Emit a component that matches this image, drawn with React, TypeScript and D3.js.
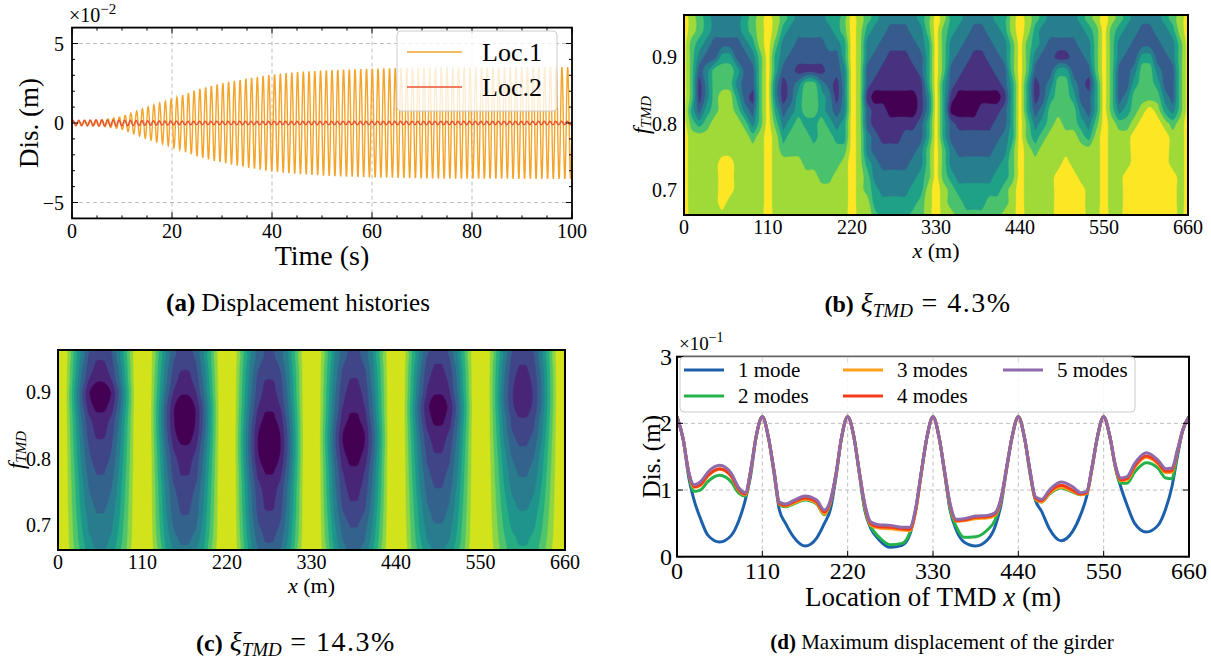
import React from "react";
import * as d3 from "d3";

const SERIF = "'Liberation Serif', 'Times New Roman', serif";

// ---------- (a) displacement histories (units of 1e-2 m) ----------
const envTimes = [0, 5, 10, 15, 20, 25, 30, 35, 40, 45, 50, 55, 60, 65, 70, 75, 80, 85, 90, 95, 100];
const loc1Envelope = [0.05, 0.15, 0.4, 1.0, 1.5, 2.1, 2.5, 2.8, 3.05, 3.2, 3.3, 3.37, 3.42, 3.45, 3.48, 3.5, 3.5, 3.5, 3.52, 3.52, 3.52];
const loc2Envelope = [0.16, 0.2, 0.18, 0.14, 0.12, 0.11, 0.11, 0.11, 0.11, 0.11, 0.11, 0.11, 0.11, 0.11, 0.11, 0.11, 0.11, 0.11, 0.11, 0.11, 0.11];
const loc1Freq = 0.87; // Hz, read from peak spacing
const loc2Freq = 0.87;
const timeTicks = [0, 20, 40, 60, 80, 100];
const disTicks = [-5, 0, 5];

// ---------- (b) / (c) maps ----------
const spanTicks = [0, 110, 220, 330, 440, 550, 660];
const fTicks = [0.7, 0.8, 0.9];
const fRows = [0.96, 0.94, 0.92, 0.9, 0.88, 0.86, 0.84, 0.82, 0.8, 0.78, 0.76, 0.74, 0.72, 0.7, 0.68, 0.66];

// (b) xi = 4.3 %: contour level per cell, x = 0..660 step 10 (one group per span)
const bRows = [
  "765433334567 65433334457 65433333457 64433334467 65433334567 65433334567",
  "765433334567 64333333457 64332223357 54332233467 64333333457 54332233467",
  "754322223467 53322223347 63322222347 53322223357 54322223357 53322223357",
  "753224422357 43222222247 63221112247 53221122357 53221122357 53224422357",
  "752355542257 42211112237 62211111247 52211112257 52224422257 52235532257",
  "751355532257 31235532137 62111111147 42111111247 41235532147 52245542257",
  "751356642157 31245543137 61000000137 41000000147 41245542247 52355553257",
  "742456653257 42345543237 62110000137 40000111247 42355553247 53456764357",
  "754566665357 53454454347 62111111247 42111112247 53456554357 65567776567",
  "766666666567 64555455447 63211122247 42222222347 54566665467 66677777667",
  "766666666667 65555555557 63222222357 53222223357 65666666667 66677777667",
  "766667766667 66665555567 64322223357 53333333457 66666766667 66677777667",
  "766667766667 66666655667 65333333457 54333334457 66667776667 66777777767",
  "766667766667 66666666667 65433334467 65444444567 66667777667 66777777767",
  "766667666667 66666666667 66444444567 65544455567 66667777667 66777777767",
  "766666666667 66666666667 66544445567 66555555667 66667777667 66777777767",
];

// (c) xi = 14.3 %: level at mid-span for each f row, one list per span
const cSpan1 = [1.75, 1.2, 0.65, -0.4, 0.0, 0.85, 1.2, 1.65, 1.95, 2.35, 2.75, 3.05, 3.4, 3.75, 4.1, 4.45];
const cSpan2 = [2.0, 1.6, 1.1, 0.6, -0.3, -0.4, -0.2, 0.45, 1.0, 1.3, 1.8, 2.1, 2.35, 2.7, 3.2, 3.7];
const cSpan3 = [2.3, 1.9, 1.45, 1.1, 0.7, 0.1, -0.4, -0.5, -0.3, 0.3, 0.9, 1.2, 1.45, 1.85, 2.3, 2.7];
const cSpan4 = [2.2, 1.8, 1.4, 1.0, 0.7, 0.2, -0.4, -0.4, 0.1, 0.7, 1.0, 1.35, 1.8, 2.35, 2.8, 3.2];
const cSpan5 = [1.9, 1.35, 0.9, 0.55, -0.2, 0.1, 0.75, 1.2, 1.6, 2.0, 2.35, 2.75, 3.1, 3.5, 3.9, 4.3];
const cSpan6 = [1.8, 1.4, 1.0, 0.8, 0.9, 1.5, 1.85, 2.4, 2.9, 3.3, 3.7, 4.1, 4.5, 4.9, 5.3, 5.6];
// share of the mid-span depth reached at offsets 0..110 m (step 10) inside a span
const cAcross = [0, 0.07, 0.38, 0.68, 0.9, 0.99, 0.99, 0.9, 0.68, 0.38, 0.07, 0];
const cSupport = 9.5;

// ---------- (d) maximum displacement (units of 1e-1 m) ----------
const spanOffsets = [0, 8, 15, 22, 30, 40, 55, 70, 80, 88, 95, 102];
const mode1 = [
  2.1, 1.76, 1.2, 0.85, 0.58, 0.32, 0.22, 0.32, 0.55, 0.85, 1.22, 1.8,
  2.1, 1.78, 1.25, 0.7, 0.5, 0.3, 0.16, 0.28, 0.5, 0.72, 1.2, 1.78,
  2.1, 1.8, 1.25, 0.7, 0.42, 0.26, 0.14, 0.17, 0.33, 0.72, 1.26, 1.78,
  2.1, 1.78, 1.25, 0.7, 0.4, 0.22, 0.16, 0.25, 0.45, 0.8, 1.32, 1.8,
  2.1, 1.78, 1.25, 0.85, 0.68, 0.42, 0.24, 0.38, 0.62, 0.9, 1.32, 1.8,
  2.1, 1.8, 1.35, 1.05, 0.78, 0.5, 0.37, 0.47, 0.72, 1.05, 1.5, 1.9,
  2.1,
];
const mode2 = [
  2.1, 1.76, 1.25, 0.98, 1.0, 1.13, 1.22, 1.12, 0.95, 0.91, 1.28, 1.8,
  2.1, 1.78, 1.28, 0.78, 0.75, 0.79, 0.85, 0.79, 0.63, 0.82, 1.23, 1.78,
  2.1, 1.8, 1.26, 0.72, 0.45, 0.3, 0.18, 0.2, 0.36, 0.73, 1.27, 1.78,
  2.1, 1.78, 1.26, 0.72, 0.45, 0.29, 0.3, 0.4, 0.55, 0.86, 1.34, 1.8,
  2.1, 1.78, 1.28, 0.86, 0.82, 0.94, 1.03, 0.97, 0.93, 0.95, 1.34, 1.8,
  2.1, 1.8, 1.35, 1.1, 1.1, 1.27, 1.41, 1.33, 1.18, 1.17, 1.55, 1.9,
  2.1,
];
const mode3 = [
  2.1, 1.76, 1.27, 1.04, 1.07, 1.21, 1.31, 1.2, 0.99, 0.93, 1.29, 1.8,
  2.1, 1.78, 1.29, 0.79, 0.76, 0.8, 0.86, 0.8, 0.64, 0.83, 1.24, 1.78,
  2.1, 1.8, 1.27, 0.77, 0.47, 0.43, 0.42, 0.4, 0.39, 0.7, 1.27, 1.78,
  2.1, 1.78, 1.27, 0.77, 0.53, 0.54, 0.57, 0.58, 0.62, 0.87, 1.34, 1.8,
  2.1, 1.78, 1.29, 0.87, 0.82, 0.95, 1.04, 0.98, 0.93, 0.95, 1.34, 1.8,
  2.1, 1.8, 1.37, 1.14, 1.15, 1.34, 1.49, 1.39, 1.26, 1.27, 1.58, 1.9,
  2.1,
];
const mode4 = [
  2.1, 1.76, 1.27, 1.05, 1.08, 1.22, 1.32, 1.21, 1.0, 0.94, 1.29, 1.8,
  2.1, 1.78, 1.29, 0.8, 0.77, 0.82, 0.88, 0.82, 0.67, 0.84, 1.24, 1.78,
  2.1, 1.8, 1.27, 0.78, 0.49, 0.45, 0.44, 0.42, 0.41, 0.72, 1.27, 1.78,
  2.1, 1.78, 1.27, 0.78, 0.54, 0.55, 0.59, 0.6, 0.64, 0.88, 1.34, 1.8,
  2.1, 1.78, 1.29, 0.88, 0.84, 0.97, 1.07, 1.0, 0.94, 0.96, 1.34, 1.8,
  2.1, 1.8, 1.37, 1.15, 1.17, 1.36, 1.51, 1.41, 1.28, 1.29, 1.58, 1.9,
  2.1,
];
const mode5 = [
  2.1, 1.76, 1.28, 1.08, 1.12, 1.27, 1.37, 1.25, 1.03, 0.96, 1.3, 1.8,
  2.1, 1.78, 1.3, 0.82, 0.79, 0.84, 0.91, 0.85, 0.7, 0.86, 1.25, 1.78,
  2.1, 1.8, 1.28, 0.8, 0.52, 0.48, 0.47, 0.44, 0.44, 0.75, 1.28, 1.78,
  2.1, 1.78, 1.28, 0.8, 0.56, 0.57, 0.61, 0.62, 0.66, 0.9, 1.35, 1.8,
  2.1, 1.78, 1.3, 0.9, 0.86, 1.0, 1.12, 1.05, 0.96, 0.98, 1.35, 1.8,
  2.1, 1.8, 1.38, 1.18, 1.2, 1.4, 1.56, 1.45, 1.32, 1.33, 1.6, 1.9,
  2.1,
];
const modeNames = ["1 mode", "2 modes", "3 modes", "4 modes", "5 modes"];
const modeColors = ["#1c60ac", "#24b24a", "#ffa01c", "#f43c1c", "#8f6aab"];
const disDTicks = [0, 1, 2, 3];

function oscillation(env: number[], freq: number, phase: number) {
  const envAt = d3.scaleLinear().domain(envTimes).range(env);
  const n = Math.round(100 * freq * 24);
  return d3.range(n + 1).map((i) => {
    const t = (i * 100) / n;
    return [t, envAt(t) * Math.sin(2 * Math.PI * freq * t + phase)] as [number, number];
  });
}

// filled contours; ring corners rounded with a closed Catmull-Rom curve
function contourPaths(values: number[], nx: number, ny: number, thresholds: number[], px: (v: number) => number, py: (v: number) => number) {
  const polys = d3.contours().size([nx, ny]).thresholds(thresholds)(values);
  const ringLine = d3.line<[number, number]>().curve(d3.curveCatmullRomClosed.alpha(0.5));
  return polys.map((mp: any) =>
    mp.coordinates
      .flatMap((poly: number[][][]) =>
        poly.map((ring) => ringLine(ring.slice(0, -1).map(([x, y]) => [px(x), py(y)] as [number, number])) || "")
      )
      .join(" ")
  );
}

const Frame = ({ x0, x1, y0, y1, w = 1.6 }: any) => (
  <rect x={x0} y={y0} width={x1 - x0} height={y1 - y0} fill="none" stroke="#000" strokeWidth={w} />
);

export default function App() {
  // ---------- (a) ----------
  const A = { x0: 72, x1: 572, y0: 27.6, y1: 218.4 };
  const aX = d3.scaleLinear().domain([0, 100]).range([A.x0, A.x1]);
  const aY = d3.scaleLinear().domain([-6, 6]).range([A.y1, A.y0]);
  const aLine = d3.line<[number, number]>().x((d) => aX(d[0])).y((d) => aY(d[1]));
  const loc1 = oscillation(loc1Envelope, loc1Freq, 0);
  const loc2 = oscillation(loc2Envelope, loc2Freq, 0.5);

  // ---------- (b) ----------
  const B = { x0: 684, x1: 1188, y0: 15, y1: 215 };
  const bX = d3.scaleLinear().domain([0, 660]).range([B.x0, B.x1]);
  const bF = d3.scaleLinear().domain([0.662, 0.964]).range([B.y1, B.y0]);
  const bGrid = bRows.map((r) => r.replace(/ /g, "").split("").map(Number));
  const nx = bGrid[0].length;
  const ny = bGrid.length;
  const bColors = d3.range(8).map((i) => d3.interpolateViridis(i / 7));
  const bPaths = contourPaths(
    bGrid.flat(), nx, ny, d3.range(7).map((k) => k + 0.5),
    (X) => bX((X - 0.5) * 10),
    (Y) => bF(fRows[0] - (Y - 0.5) * 0.02)
  );

  // ---------- (c) ----------
  const C = { x0: 58, x1: 565, y0: 350, y1: 550 };
  const cX = d3.scaleLinear().domain([0, 660]).range([C.x0, C.x1]);
  const cF = d3.scaleLinear().domain([0.662, 0.964]).range([C.y1, C.y0]);
  const cSpans = [cSpan1, cSpan2, cSpan3, cSpan4, cSpan5, cSpan6];
  const cValues: number[] = [];
  fRows.forEach((_, r) => {
    for (let i = 0; i < nx; i++) {
      const x = i * 10;
      const s = Math.min(5, Math.floor(x / 110));
      const k = Math.round((x - 110 * s) / 10);
      const mid = cSpans[s][r];
      cValues.push(cSupport - (cSupport - mid) * cAcross[k]);
    }
  });
  const cColors = d3.range(10).map((i) => d3.interpolateViridis((i / 9) * 0.93));
  const cPaths = contourPaths(
    cValues, nx, ny, d3.range(9).map((k) => k + 0.5),
    (X) => cX((X - 0.5) * 10),
    (Y) => cF(fRows[0] - (Y - 0.5) * 0.02)
  );

  // ---------- (d) ----------
  const D = { x0: 677, x1: 1189, y0: 356.7, y1: 556.7 };
  const dX = d3.scaleLinear().domain([0, 660]).range([D.x0, D.x1]);
  const dY = d3.scaleLinear().domain([0, 3]).range([D.y1, D.y0]);
  const dPos = [...d3.range(6).flatMap((s) => spanOffsets.map((o) => s * 110 + o)), 660];
  const dLine = d3.line<number>().x((_, i) => dX(dPos[i])).y((v) => dY(v)).curve(d3.curveMonotoneX);
  const modes = [mode1, mode2, mode3, mode4, mode5];

  const grid = { stroke: "#b8b8b8", strokeWidth: 0.9, strokeDasharray: "4,3" };

  return (
    <svg width={1211} height={664} style={{ position: "absolute", left: 0, top: 0, background: "#fff" }} fontFamily={SERIF}>
      <rect x={0} y={0} width={1211} height={664} fill="#fff" />
      <defs>
        <clipPath id="clipA"><rect x={A.x0} y={A.y0} width={A.x1 - A.x0} height={A.y1 - A.y0} /></clipPath>
        <clipPath id="clipB"><rect x={B.x0} y={B.y0} width={B.x1 - B.x0} height={B.y1 - B.y0} /></clipPath>
        <clipPath id="clipC"><rect x={C.x0} y={C.y0} width={C.x1 - C.x0} height={C.y1 - C.y0} /></clipPath>
        <clipPath id="clipD"><rect x={D.x0} y={D.y0} width={D.x1 - D.x0} height={D.y1 - D.y0} /></clipPath>
      </defs>

      {/* ===== (a) ===== */}
      <g>
        {timeTicks.slice(1, -1).map((t) => (
          <line key={"ag" + t} x1={aX(t)} x2={aX(t)} y1={A.y0} y2={A.y1} {...grid} />
        ))}
        {disTicks.map((v) => (
          <line key={"agy" + v} x1={A.x0} x2={A.x1} y1={aY(v)} y2={aY(v)} {...grid} />
        ))}
        <g clipPath="url(#clipA)">
          <path d={aLine(loc1) || ""} fill="none" stroke="#f5a42a" strokeWidth={1.4} />
          <path d={aLine(loc2) || ""} fill="none" stroke="#e8532c" strokeWidth={1.4} />
        </g>
        {d3.range(0, 101, 5).map((t) => {
          const len = t % 20 === 0 ? 6 : 3;
          return (
            <g key={"axt" + t} stroke="#000" strokeWidth={1}>
              <line x1={aX(t)} x2={aX(t)} y1={A.y1} y2={A.y1 - len} />
              <line x1={aX(t)} x2={aX(t)} y1={A.y0} y2={A.y0 + len} />
            </g>
          );
        })}
        {d3.range(-6, 7, 1).map((v) => {
          const len = v % 5 === 0 ? 6 : 3;
          return (
            <g key={"ayt" + v} stroke="#000" strokeWidth={1}>
              <line x1={A.x0} x2={A.x0 + len} y1={aY(v)} y2={aY(v)} />
              <line x1={A.x1} x2={A.x1 - len} y1={aY(v)} y2={aY(v)} />
            </g>
          );
        })}
        <Frame {...A} w={1.8} />
        {timeTicks.map((t) => (
          <text key={"axl" + t} x={aX(t)} y={A.y1 + 20} fontSize={20} textAnchor="middle">{t}</text>
        ))}
        {disTicks.map((v) => (
          <text key={"ayl" + v} x={A.x0 - 8} y={aY(v)} fontSize={20} textAnchor="end" dominantBaseline="central">
            {v < 0 ? "\u2212" + Math.abs(v) : v}
          </text>
        ))}
        <text x={69} y={22} fontSize={20}>
          ×10<tspan fontSize={15} dy={-8}>−2</tspan>
        </text>
        <text x={(A.x0 + A.x1) / 2} y={265} fontSize={28} textAnchor="middle">Time (s)</text>
        <text transform={`translate(29,${(A.y0 + A.y1) / 2}) rotate(-90)`} fontSize={27} textAnchor="middle" dominantBaseline="central">Dis. (m)</text>
        <rect x={397} y={31} width={160} height={80} rx={4} fill="#fff" fillOpacity={0.8} stroke="#cccccc" strokeWidth={1} />
        <line x1={407} x2={462} y1={52} y2={52} stroke="#f5a42a" strokeWidth={1.6} />
        <line x1={407} x2={462} y1={87} y2={87} stroke="#e8532c" strokeWidth={1.6} />
        <text x={482} y={52} fontSize={26} dominantBaseline="central">Loc.1</text>
        <text x={482} y={87} fontSize={26} dominantBaseline="central">Loc.2</text>
        <text x={298} y={311} fontSize={25} textAnchor="middle">
          <tspan fontWeight="bold">(a)</tspan> Displacement histories
        </text>
      </g>

      {/* ===== (b) ===== */}
      <g>
        <g clipPath="url(#clipB)">
          <rect x={B.x0} y={B.y0} width={B.x1 - B.x0} height={B.y1 - B.y0} fill={bColors[0]} />
          {bPaths.map((d, k) => (
            <path key={"bp" + k} d={d} fill={bColors[k + 1]} fillRule="evenodd" stroke={bColors[k + 1]} strokeWidth={0.4} />
          ))}
        </g>
        <Frame {...B} w={2} />
        {spanTicks.map((t) => (
          <text key={"bxl" + t} x={bX(t)} y={234} fontSize={20} textAnchor="middle">{t}</text>
        ))}
        {fTicks.map((v) => (
          <text key={"byl" + v} x={B.x0 - 7} y={bF(v)} fontSize={20} textAnchor="end" dominantBaseline="central">{v.toFixed(1)}</text>
        ))}
        <text x={(B.x0 + B.x1) / 2} y={258} fontSize={22} textAnchor="middle">
          <tspan fontStyle="italic">x</tspan> (m)
        </text>
        <text transform={`translate(641,${(B.y0 + B.y1) / 2}) rotate(-90)`} textAnchor="middle" dominantBaseline="central">
          <tspan fontStyle="italic" fontSize={23}>f</tspan>
          <tspan fontStyle="italic" fontSize={15} dy={5}>TMD</tspan>
        </text>
        <text x={918} y={312} fontSize={28} textAnchor="middle">
          <tspan fontWeight="bold" fontSize={24}>(b)</tspan>{"  "}<tspan fontStyle="italic">ξ</tspan>
          <tspan fontStyle="italic" fontSize={19} dy={5}>TMD</tspan>
          <tspan dy={-5} letterSpacing={1.5}>{" = 4.3%"}</tspan>
        </text>
      </g>

      {/* ===== (c) ===== */}
      <g>
        <g clipPath="url(#clipC)">
          <rect x={C.x0} y={C.y0} width={C.x1 - C.x0} height={C.y1 - C.y0} fill={cColors[0]} />
          {cPaths.map((d, k) => (
            <path key={"cp" + k} d={d} fill={cColors[k + 1]} fillRule="evenodd" stroke={cColors[k + 1]} strokeWidth={0.4} />
          ))}
        </g>
        <Frame {...C} w={2} />
        {spanTicks.map((t) => (
          <text key={"cxl" + t} x={cX(t)} y={569} fontSize={20} textAnchor="middle">{t}</text>
        ))}
        {fTicks.map((v) => (
          <text key={"cyl" + v} x={C.x0 - 7} y={cF(v)} fontSize={20} textAnchor="end" dominantBaseline="central">{v.toFixed(1)}</text>
        ))}
        <text x={(C.x0 + C.x1) / 2} y={593} fontSize={22} textAnchor="middle">
          <tspan fontStyle="italic">x</tspan> (m)
        </text>
        <text transform={`translate(16,${(C.y0 + C.y1) / 2}) rotate(-90)`} textAnchor="middle" dominantBaseline="central">
          <tspan fontStyle="italic" fontSize={23}>f</tspan>
          <tspan fontStyle="italic" fontSize={15} dy={5}>TMD</tspan>
        </text>
        <text x={296} y={651} fontSize={28} textAnchor="middle">
          <tspan fontWeight="bold" fontSize={24}>(c)</tspan>{"  "}<tspan fontStyle="italic">ξ</tspan>
          <tspan fontStyle="italic" fontSize={19} dy={5}>TMD</tspan>
          <tspan dy={-5} letterSpacing={1.5}>{" = 14.3%"}</tspan>
        </text>
      </g>

      {/* ===== (d) ===== */}
      <g>
        {spanTicks.slice(1, -1).map((t) => (
          <line key={"dg" + t} x1={dX(t)} x2={dX(t)} y1={D.y0} y2={D.y1} {...grid} />
        ))}
        {[1, 2].map((v) => (
          <line key={"dgy" + v} x1={D.x0} x2={D.x1} y1={dY(v)} y2={dY(v)} {...grid} />
        ))}
        <g clipPath="url(#clipD)">
          {modes.map((m, i) => (
            <path key={"dl" + i} d={dLine(m) || ""} fill="none" stroke={modeColors[i]} strokeWidth={3} strokeLinejoin="round" />
          ))}
        </g>
        {spanTicks.map((t) => (
          <g key={"dxt" + t} stroke="#000" strokeWidth={1}>
            <line x1={dX(t)} x2={dX(t)} y1={D.y1} y2={D.y1 - 6} />
            <line x1={dX(t)} x2={dX(t)} y1={D.y0} y2={D.y0 + 6} />
          </g>
        ))}
        {disDTicks.map((v) => (
          <g key={"dyt" + v} stroke="#000" strokeWidth={1}>
            <line x1={D.x0} x2={D.x0 + 6} y1={dY(v)} y2={dY(v)} />
            <line x1={D.x1} x2={D.x1 - 6} y1={dY(v)} y2={dY(v)} />
          </g>
        ))}
        <Frame {...D} w={2} />
        {spanTicks.map((t) => (
          <text key={"dxl" + t} x={dX(t)} y={579} fontSize={24} textAnchor="middle">{t}</text>
        ))}
        {disDTicks.map((v) => (
          <text key={"dyl" + v} x={D.x0 - 5} y={dY(v)} fontSize={24} textAnchor="end" dominantBaseline="central">{v}</text>
        ))}
        <text x={679} y={350} fontSize={19}>
          ×10<tspan fontSize={14} dy={-8}>−1</tspan>
        </text>
        <text x={(D.x0 + D.x1) / 2} y={606} fontSize={27} textAnchor="middle">
          Location of TMD <tspan fontStyle="italic">x</tspan> (m)
        </text>
        <text transform={`translate(651,${(D.y0 + D.y1) / 2}) rotate(-90)`} fontSize={25} textAnchor="middle" dominantBaseline="central">Dis. (m)</text>
        <rect x={680} y={357} width={455} height={55} rx={4} fill="#fff" fillOpacity={0.85} stroke="#cccccc" strokeWidth={1} />
        {modeNames.map((name, i) => {
          const col = Math.floor(i / 2);
          const row = i % 2;
          const lx = [684, 843, 1003][col];
          const ly = 370 + row * 26;
          return (
            <g key={"dleg" + i}>
              <line x1={lx} x2={lx + 40} y1={ly} y2={ly} stroke={modeColors[i]} strokeWidth={3} />
              <text x={lx + 54} y={ly} fontSize={21} dominantBaseline="central">{name}</text>
            </g>
          );
        })}
        <text x={942} y={649} fontSize={21} textAnchor="middle">
          <tspan fontWeight="bold">(d)</tspan> Maximum displacement of the girder
        </text>
      </g>
    </svg>
  );
}
